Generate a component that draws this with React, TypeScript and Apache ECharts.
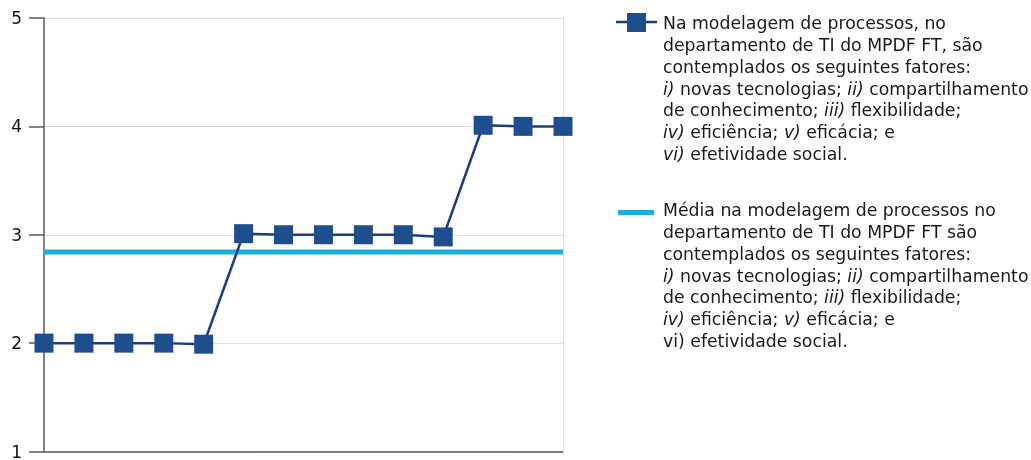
import React, { useEffect, useRef } from "react";
import * as echarts from "echarts";

const categories = ["1", "2", "3", "4", "5", "6", "7", "8", "9", "10", "11", "12", "13", "14"];
const seriesValues = [2, 2, 2, 2, 1.99, 3.01, 3, 3, 3, 3, 2.98, 4.01, 4, 4];
const averageValues = [2.84, 2.84, 2.84, 2.84, 2.84, 2.84, 2.84, 2.84, 2.84, 2.84, 2.84, 2.84, 2.84, 2.84];
const yTicks = [1, 2, 3, 4, 5];

const legend1Lines = [
  "{r|Na modelagem de processos, no}",
  "{r|departamento de TI do MPDF FT, são}",
  "{r|contemplados os seguintes fatores:}",
  "{i|i)}{r| novas tecnologias; }{i|ii)}{r| compartilhamento}",
  "{r|de conhecimento; }{i|iii)}{r| flexibilidade;}",
  "{i|iv)}{r| eficiência; }{i|v)}{r| eficácia; e}",
  "{i|vi)}{r| efetividade social.}",
];
const legend2Lines = [
  "{r|Média na modelagem de processos no}",
  "{r|departamento de TI do MPDF FT são}",
  "{r|contemplados os seguintes fatores:}",
  "{i|i)}{r| novas tecnologias; }{i|ii)}{r| compartilhamento}",
  "{r|de conhecimento; }{i|iii)}{r| flexibilidade;}",
  "{i|iv)}{r| eficiência; }{i|v)}{r| eficácia; e}",
  "{r|vi) efetividade social.}",
];

const FONT = "'DejaVu Sans', 'Open Sans', sans-serif";
const LH = 21.7;
const FS = 17.3;
const rich = {
  r: { fontFamily: FONT, fontSize: FS, lineHeight: LH, fill: "#1a1a1a" },
  i: { fontFamily: FONT, fontSize: FS, lineHeight: LH, fill: "#1a1a1a", fontStyle: "italic" },
};

function legendTexts(lines: string[], top: number) {
  return lines.map((t, k) => ({
    type: "text",
    x: 663,
    y: top + k * LH,
    style: { text: t, rich, verticalAlign: "top", align: "left", fontFamily: FONT, fontSize: FS, lineHeight: LH },
  }));
}

export default function App() {
  const ref = useRef<HTMLDivElement>(null);
  useEffect(() => {
    if (!ref.current) return;
    const chart = echarts.init(ref.current, null, { renderer: "svg" });
    chart.setOption({
      animation: false,
      grid: { left: 44, right: 468, top: 18, bottom: 6, containLabel: false },
      xAxis: {
        type: "category",
        data: categories,
        boundaryGap: false,
        axisLine: { show: true, lineStyle: { color: "#5a5a5a", width: 1.5 } },
        axisTick: { show: false },
        axisLabel: { show: false },
        splitLine: { show: false },
      },
      yAxis: {
        type: "value",
        min: yTicks[0],
        max: yTicks[yTicks.length - 1],
        interval: 1,
        axisLine: { show: true, lineStyle: { color: "#5a5a5a", width: 1.5 } },
        axisTick: { show: true, length: 15, lineStyle: { color: "#5a5a5a", width: 1.5 } },
        axisLabel: { margin: 22, fontFamily: FONT, fontSize: 17, color: "#111" },
        splitLine: { show: true, lineStyle: { color: "#dcdcdc", width: 1 } },
      },
      series: [
        {
          name: "Média",
          type: "line",
          data: averageValues,
          showSymbol: false,
          symbol: "none",
          lineStyle: { color: "#19b0dc", width: 5 },
          z: 2,
        },
        {
          name: "Na modelagem",
          type: "line",
          data: seriesValues,
          symbol: "rect",
          symbolSize: 19,
          itemStyle: { color: "#1f4e8f" },
          lineStyle: { color: "#1c3c80", width: 2.5 },
          z: 3,
        },
      ],
      graphic: [
        { type: "line", shape: { x1: 563.5, y1: 18, x2: 563.5, y2: 454 }, style: { stroke: "#dcdcdc", lineWidth: 1 }, z: 1 },
        { type: "line", shape: { x1: 616, y1: 22, x2: 657, y2: 22 }, style: { stroke: "#1c3c80", lineWidth: 2.5 } },
        { type: "rect", shape: { x: 627, y: 13, width: 19, height: 19 }, style: { fill: "#1f4e8f" } },
        { type: "rect", shape: { x: 618, y: 210, width: 36, height: 5 }, style: { fill: "#19b0dc" } },
        ...legendTexts(legend1Lines, 12.6),
        ...legendTexts(legend2Lines, 199.6),
      ],
    });
    return () => chart.dispose();
  }, []);
  return <div ref={ref} style={{ position: "fixed", left: 0, top: 0, width: 1031, height: 460 }} />;
}
